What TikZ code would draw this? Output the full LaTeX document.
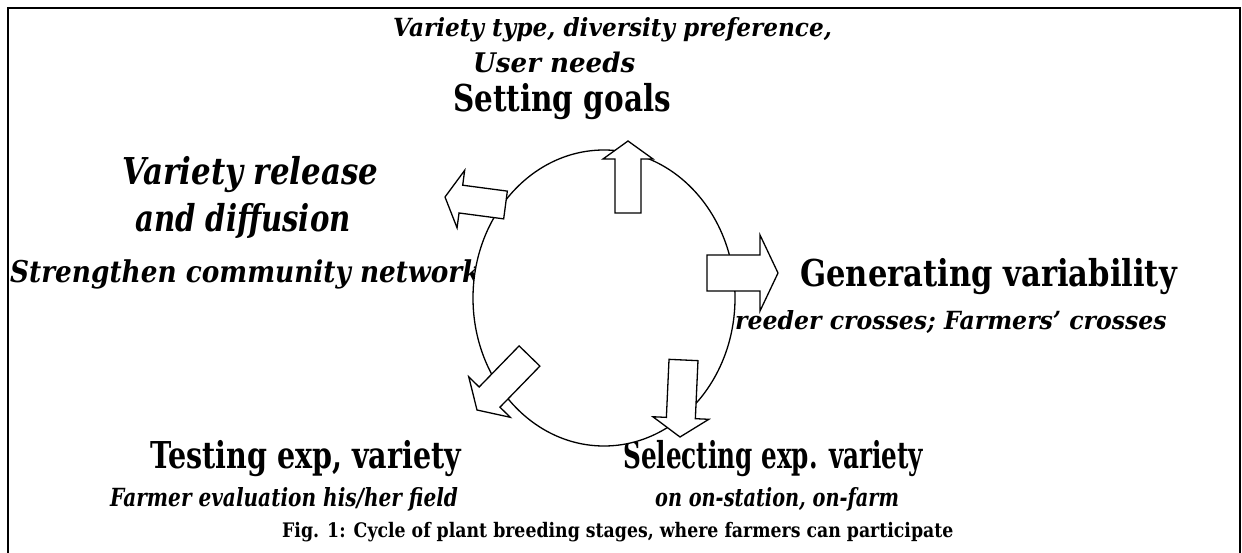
\documentclass[tikz,border=0pt]{standalone}
\usepackage{fontspec}
\setmainfont{DejaVu Serif}[FakeStretch=0.78]
\usetikzlibrary{calc}
\newcommand\blockarr[6]{%
  \coordinate (#1-t) at #2; \coordinate (#1-p) at #3;
  \coordinate (#1-b) at ($(#1-p)!#6!(#1-t)$);
  \draw[barrow] ($(#1-t)!#4!90:(#1-p)$) -- ($(#1-b)!#4!-90:(#1-t)$) -- ($(#1-b)!#5!-90:(#1-t)$) -- (#1-p)
    -- ($(#1-b)!#5!90:(#1-t)$) -- ($(#1-b)!#4!90:(#1-t)$) -- ($(#1-t)!#4!-90:(#1-p)$) -- cycle;}
\newcommand\hs[2]{\scalebox{#1}[1]{#2}}
\newcommand\fs[1]{\fontsize{#1}{#1}\selectfont}
\tikzset{
  barrow/.style={draw=black, fill=white, line width=1.3pt, line join=miter},
  txtbi/.style={font=\bfseries\itshape, inner sep=0pt, anchor=base west},
  txtb/.style={font=\bfseries, inner sep=0pt, anchor=base west},
}
\begin{document}
\begin{tikzpicture}[x=1pt,y=-1pt]
\useasboundingbox (0,0) rectangle (1242,553);
\draw[line width=2.2pt] (8,553) -- (8,8) -- (1240,8) -- (1240,553);
% texts
\node[txtbi] (vt) at (393,37) {\fs{25}\hs{1.19}{Variety type, diversity preference,}};
\node[txtbi] (un) at (473,73) {\fs{27}\hs{1.24}{User needs}};
\node[txtb] (sg) at (453,112) {\fs{37}\hs{1.02}{Setting goals}};
\node[txtbi] (vr) at (122,185) {\fs{37}\hs{1.07}{Variety release}};
\node[txtbi] (ad) at (135,232) {\fs{37}\hs{1.01}{and diffusion}};
\node[txtbi] (sc) at (10,283) {\fs{30}\hs{1.125}{Strengthen community network}};
\node[txtb] (gv) at (800,287) {\fs{37}\hs{1.06}{Generating variability}};
\node[txtbi, anchor=base east] (bc) at (1167,329) {\fs{25}\hs{1.21}{Breeder crosses; Farmers’ crosses}};
\node[txtb] (te) at (150,468) {\fs{37}\hs{0.99}{Testing exp, variety}};
\node[txtb] (se) at (623,468) {\fs{37}\hs{0.855}{Selecting exp. variety}};
\node[txtbi] (fe) at (110,506) {\fs{25}\hs{1.03}{Farmer evaluation his/her field}};
\node[txtbi] (os) at (655,506) {\fs{25}\hs{0.99}{on on-station, on-farm}};
\node[txtb] (fig) at (282,537) {\fs{20}\hs{1.11}{Fig. 1: Cycle of plant breeding stages, where farmers can participate}};
% cycle
\draw[line width=1.3pt, fill=white] (604,298) ellipse [x radius=131, y radius=148];
% arrows
\blockarr{up}{(628,213)}{(628,141)}{13pt}{25pt}{18pt}
\blockarr{rt}{(707,273)}{(778,273)}{18pt}{38pt}{18pt}
\blockarr{ul}{(505.5,205)}{(445,197)}{14pt}{29pt}{16pt}
\blockarr{ll}{(529.5,356)}{(477,410)}{14.5pt}{29pt}{18pt}
\blockarr{dn}{(683.5,360)}{(680,437)}{14.5pt}{28pt}{19pt}
\end{tikzpicture}
\end{document}
